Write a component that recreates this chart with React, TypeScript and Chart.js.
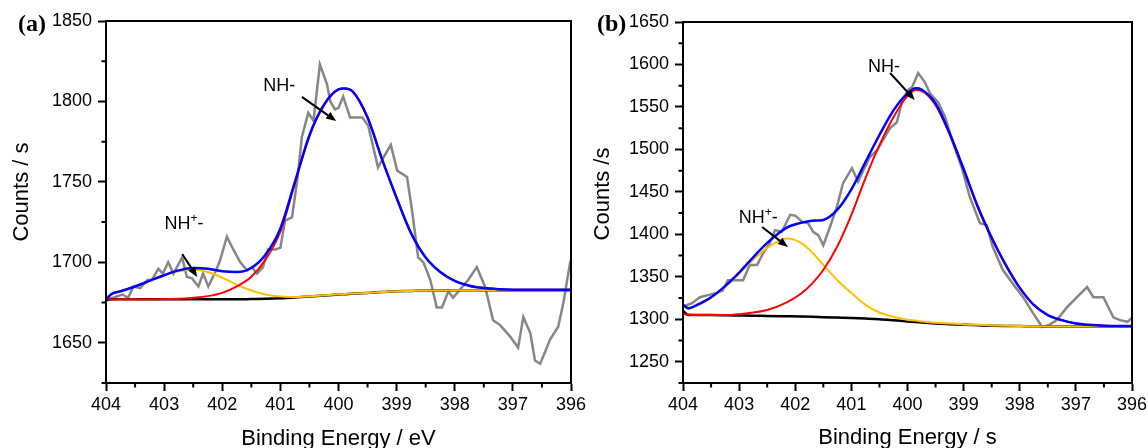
import React, { useEffect, useRef } from 'react';
import { Chart, registerables } from 'chart.js';

Chart.register(...registerables);

// ---------- tick labels ----------
const xTicks = [404, 403, 402, 401, 400, 399, 398, 397, 396];
const xMinorTicks = [403.5, 402.5, 401.5, 400.5, 399.5, 398.5, 397.5, 396.5];
const yTicksA = [1650, 1700, 1750, 1800, 1850];
const yMinorA = [1625, 1675, 1725, 1775, 1825];
const yTicksB = [1250, 1300, 1350, 1400, 1450, 1500, 1550, 1600, 1650];
const yMinorB = [1225, 1275, 1325, 1375, 1425, 1475, 1525, 1575, 1625];

// ---------- panel (a): raw spectrum ----------
const rawEnergyA = [404.0, 403.88, 403.72, 403.62, 403.53, 403.41, 403.29, 403.21, 403.1, 403.02, 402.93, 402.84, 402.69, 402.61, 402.52, 402.41, 402.33, 402.24, 402.12, 402.04, 401.92, 401.81, 401.69, 401.57, 401.49, 401.4, 401.3, 401.21, 401.09, 401.0, 400.92, 400.8, 400.71, 400.63, 400.52, 400.43, 400.32, 400.2, 400.14, 400.06, 400.0, 399.92, 399.8, 399.59, 399.49, 399.32, 399.23, 399.1, 398.99, 398.82, 398.73, 398.63, 398.54, 398.42, 398.31, 398.22, 398.11, 398.03, 397.91, 397.77, 397.62, 397.48, 397.34, 397.22, 397.05, 396.91, 396.82, 396.7, 396.62, 396.53, 396.36, 396.22, 396.13, 396.01];
const rawCountsA = [1677, 1678, 1680, 1678, 1685, 1684, 1689, 1689, 1696, 1693, 1700, 1693, 1703, 1691, 1690, 1685, 1693, 1685, 1694, 1701, 1716, 1708, 1700, 1695, 1697, 1693, 1697, 1708, 1708, 1709, 1726, 1728, 1751, 1778, 1793, 1788, 1823, 1811, 1800, 1795, 1796, 1803, 1790, 1790, 1785, 1759, 1765, 1773, 1757, 1753, 1731, 1703, 1700, 1689, 1672, 1672, 1682, 1678, 1683, 1689, 1697, 1685, 1664, 1661, 1654, 1647, 1666, 1656, 1639, 1637, 1652, 1660, 1675, 1701];

// ---------- panel (a): fitted curves ----------
const fitEnergyA = [404, 403.9, 403.75, 403.5, 403.25, 403, 402.75, 402.5, 402.25, 402, 401.75, 401.5, 401.25, 401, 400.75, 400.5, 400.25, 400, 399.9, 399.75, 399.5, 399.25, 399, 398.75, 398.5, 398.25, 398, 397.75, 397.5, 397.25, 397, 396.5, 396];
const envelopeA = [1677, 1680.5, 1682, 1685, 1688.5, 1692, 1695, 1696.5, 1696, 1694.5, 1694, 1696.5, 1705, 1721, 1750, 1779, 1798, 1807.5, 1808, 1806, 1790, 1764, 1740, 1718, 1703, 1694, 1688.5, 1685.5, 1684, 1683.3, 1683, 1683, 1683];
const nhA = [1677, 1677, 1677, 1677, 1677, 1677, 1677.3, 1678, 1679, 1681, 1685, 1691, 1702, 1719, 1749, 1778.5, 1797.5, 1807.5, 1808, 1806, 1790, 1764, 1740, 1718, 1703, 1694, 1688.5, 1685.5, 1684, 1683.3, 1683, 1683, 1683];
const nhPlusA = [1678, 1680, 1682, 1685, 1688.5, 1692, 1694.5, 1695.5, 1694, 1690.5, 1686, 1682.5, 1680, 1678.7, 1678.4, 1678.9, 1679.5, 1680.1, 1680.3, 1680.6, 1681, 1681.5, 1682, 1682.2, 1682.4, 1682.5, 1682.6, 1682.6, 1682.6, 1682.6, 1682.6, 1682.6, 1682.6];
const backgroundA = [1676.5, 1677, 1677, 1677, 1677, 1677, 1677, 1677, 1677, 1677, 1677, 1677.2, 1677.4, 1677.7, 1678.2, 1678.8, 1679.4, 1680, 1680.2, 1680.6, 1681, 1681.5, 1682, 1682.2, 1682.4, 1682.5, 1682.6, 1682.6, 1682.6, 1682.6, 1682.6, 1682.6, 1682.6];

// ---------- panel (b): raw spectrum ----------
const rawEnergyB = [404.0, 403.84, 403.7, 403.52, 403.4, 403.29, 403.2, 403.07, 402.93, 402.81, 402.68, 402.57, 402.45, 402.36, 402.24, 402.09, 402.0, 401.88, 401.77, 401.68, 401.59, 401.5, 401.38, 401.26, 401.15, 400.99, 400.88, 400.76, 400.67, 400.54, 400.44, 400.31, 400.19, 400.1, 399.99, 399.92, 399.81, 399.69, 399.6, 399.45, 399.33, 399.19, 399.03, 398.89, 398.71, 398.59, 398.48, 398.3, 398.08, 397.94, 397.76, 397.6, 397.49, 397.34, 397.16, 396.98, 396.8, 396.69, 396.51, 396.33, 396.21, 396.08, 396.0];
const rawCountsB = [1315, 1319, 1326, 1329, 1331, 1334, 1346, 1346, 1346, 1364, 1364, 1378, 1390, 1405, 1403, 1423, 1422, 1415, 1413, 1403, 1399, 1387, 1409, 1432, 1460, 1478, 1462, 1479, 1491, 1499, 1511, 1525, 1532, 1556, 1570, 1573, 1590, 1579, 1566, 1555, 1538, 1508, 1478, 1444, 1413, 1411, 1385, 1358, 1338, 1326, 1307, 1291, 1293, 1299, 1314, 1326, 1338, 1326, 1326, 1302, 1299, 1297, 1302];

// ---------- panel (b): fitted curves ----------
const fitEnergyB = [404, 403.9, 403.75, 403.5, 403.25, 403, 402.75, 402.5, 402.15, 401.9, 401.7, 401.5, 401.25, 401, 400.75, 400.5, 400.25, 400, 399.85, 399.75, 399.5, 399.25, 399, 398.75, 398.5, 398.25, 398, 397.75, 397.5, 397.25, 397, 396.5, 396];
const envelopeB = [1317, 1313, 1317, 1326, 1339, 1355, 1373, 1390, 1408, 1413.5, 1416, 1417, 1429, 1453, 1485, 1517, 1546, 1566, 1572, 1570.5, 1554, 1519, 1477, 1433, 1396, 1364, 1337, 1317, 1305, 1299, 1295, 1292.5, 1292];
const nhB = [1306, 1305.5, 1305, 1305, 1305, 1306, 1308, 1311, 1320, 1330, 1342, 1358, 1386, 1423, 1466, 1505, 1538, 1563, 1570, 1569, 1552, 1518, 1476.5, 1432.5, 1396, 1364, 1337, 1317, 1305, 1299, 1295, 1292.5, 1292];
const nhPlusB = [1316, 1312, 1316, 1325, 1338, 1354, 1370, 1384, 1395, 1390, 1379, 1364, 1346, 1331, 1317, 1308, 1303, 1299.5, 1298.5, 1297.5, 1296, 1295, 1294, 1293.5, 1292.8, 1292.3, 1292, 1291.8, 1291.6, 1291.5, 1291.5, 1291.5, 1291.5];
const backgroundB = [1310, 1305, 1305, 1305, 1304.8, 1304.5, 1304.2, 1304, 1303.6, 1303.3, 1303, 1302.5, 1302, 1301.5, 1300.8, 1300, 1298.8, 1297.5, 1296.8, 1296.3, 1295, 1294.2, 1293.5, 1293, 1292.5, 1292.2, 1292, 1291.8, 1291.6, 1291.5, 1291.5, 1291.5, 1291.5];

const SANS = '"Liberation Sans", Arial, sans-serif';
const SERIF = '"Liberation Serif", "Times New Roman", serif';

type Note = { text: string; sup: boolean; tx: number; ty: number; ax1: number; ay1: number; ax2: number; ay2: number };

type PanelSpec = {
  rawE: number[]; rawC: number[];
  fitE: number[]; envelope: number[]; nh: number[]; nhPlus: number[]; background: number[];
  yMin: number; yMax: number; yTicks: number[]; yMinor: number[];
  panelLabel: string; xTitle: string; yTitle: string;
  width: number; yAxisWidth: number; padTop: number; padRight: number;
  labelX: number; yTitleX: number; yTitleY: number; xTitleY: number;
  notes: Note[];
};

const panelA: PanelSpec = {
  rawE: rawEnergyA, rawC: rawCountsA,
  fitE: fitEnergyA, envelope: envelopeA, nh: nhA, nhPlus: nhPlusA, background: backgroundA,
  yMin: 1625, yMax: 1850, yTicks: yTicksA, yMinor: yMinorA,
  panelLabel: '(a)', xTitle: 'Binding Energy / eV', yTitle: 'Counts / s',
  width: 600, yAxisWidth: 106, padTop: 21, padRight: 29,
  labelX: 18, yTitleX: 28, yTitleY: 192, xTitleY: 445,
  notes: [
    { text: 'NH-', sup: false, tx: 401.02, ty: 1806.5, ax1: 400.63, ay1: 1802.8, ax2: 400.04, ay2: 1787.8 },
    { text: 'NH-', sup: true, tx: 402.66, ty: 1720.7, ax1: 402.69, ay1: 1705.2, ax2: 402.43, ay2: 1690.9 },
  ],
};

const panelB: PanelSpec = {
  rawE: rawEnergyB, rawC: rawCountsB,
  fitE: fitEnergyB, envelope: envelopeB, nh: nhB, nhPlus: nhPlusB, background: backgroundB,
  yMin: 1225, yMax: 1650, yTicks: yTicksB, yMinor: yMinorB,
  panelLabel: '(b)', xTitle: 'Binding Energy / s', yTitle: 'Counts /s',
  width: 570, yAxisWidth: 105, padTop: 22, padRight: 16,
  labelX: 19, yTitleX: 31, yTitleY: 194, xTitleY: 444,
  notes: [
    { text: 'NH-', sup: false, tx: 400.42, ty: 1591.1, ax1: 400.31, ay1: 1590.0, ax2: 399.87, ay2: 1558.2 },
    { text: 'NH-', sup: true, tx: 402.66, ty: 1413.4, ax1: 402.59, ay1: 1408.7, ax2: 402.13, ay2: 1385.1 },
  ],
};

function drawArrow(ctx: CanvasRenderingContext2D, x1: number, y1: number, x2: number, y2: number) {
  const ang = Math.atan2(y2 - y1, x2 - x1);
  const len = 10;
  const hw = 4;
  const bx = x2 - len * Math.cos(ang);
  const by = y2 - len * Math.sin(ang);
  ctx.lineWidth = 2;
  ctx.beginPath();
  ctx.moveTo(x1, y1);
  ctx.lineTo(bx, by);
  ctx.stroke();
  ctx.beginPath();
  ctx.moveTo(x2, y2);
  ctx.lineTo(bx + hw * Math.sin(ang), by - hw * Math.cos(ang));
  ctx.lineTo(bx - hw * Math.sin(ang), by + hw * Math.cos(ang));
  ctx.closePath();
  ctx.fill();
}

function drawNote(ctx: CanvasRenderingContext2D, note: Note, cx: number, by: number) {
  ctx.textBaseline = 'alphabetic';
  ctx.textAlign = 'left';
  const big = `18px ${SANS}`;
  const small = `12px ${SANS}`;
  if (!note.sup) {
    ctx.font = big;
    const w = ctx.measureText(note.text).width;
    ctx.fillText(note.text, cx - w / 2, by);
    return;
  }
  ctx.font = big;
  const w1 = ctx.measureText('NH').width;
  const w3 = ctx.measureText('-').width;
  ctx.font = small;
  const w2 = ctx.measureText('+').width;
  let x = cx - (w1 + w2 + w3) / 2;
  ctx.font = big;
  ctx.fillText('NH', x, by);
  x += w1;
  ctx.font = small;
  ctx.fillText('+', x, by - 7);
  x += w2;
  ctx.font = big;
  ctx.fillText('-', x, by);
}

function makeChart(canvas: HTMLCanvasElement, p: PanelSpec) {
  const pts = (xs: number[], ys: number[]) => xs.map((x, i) => ({ x, y: ys[i] }));
  const ds = (label: string, xs: number[], ys: number[], color: string, width: number, order: number, smooth: boolean) => ({
    label,
    data: pts(xs, ys),
    borderColor: color,
    backgroundColor: color,
    borderWidth: width,
    pointRadius: 0,
    pointHoverRadius: 0,
    fill: false,
    order,
    tension: 0,
    cubicInterpolationMode: smooth ? 'monotone' : 'default',
  });

  const decor = {
    id: 'decor',
    afterDraw(chart: any) {
      const { ctx, chartArea: ca, scales } = chart;
      const xs = scales.x;
      const ys = scales.y;
      ctx.save();
      ctx.strokeStyle = '#000';
      ctx.fillStyle = '#000';
      ctx.lineWidth = 2;
      ctx.beginPath();
      xMinorTicks.forEach((v) => {
        const px = xs.getPixelForValue(v);
        ctx.moveTo(px, ca.bottom);
        ctx.lineTo(px, ca.bottom + 4.5);
      });
      p.yMinor.forEach((v) => {
        const py = ys.getPixelForValue(v);
        ctx.moveTo(ca.left, py);
        ctx.lineTo(ca.left - 4.5, py);
      });
      ctx.stroke();
      ctx.strokeRect(ca.left, ca.top, ca.right - ca.left, ca.bottom - ca.top);

      p.notes.forEach((n) => {
        drawNote(ctx, n, xs.getPixelForValue(n.tx), ys.getPixelForValue(n.ty));
        drawArrow(ctx, xs.getPixelForValue(n.ax1), ys.getPixelForValue(n.ay1), xs.getPixelForValue(n.ax2), ys.getPixelForValue(n.ay2));
      });

      // panel label
      ctx.font = `bold 24px ${SERIF}`;
      ctx.textAlign = 'left';
      ctx.textBaseline = 'alphabetic';
      ctx.fillText(p.panelLabel, p.labelX, 31);

      // axis titles
      ctx.font = `22px ${SANS}`;
      ctx.textAlign = 'center';
      ctx.fillText(p.xTitle, (ca.left + ca.right) / 2, p.xTitleY);
      ctx.save();
      ctx.translate(p.yTitleX, p.yTitleY);
      ctx.rotate(-Math.PI / 2);
      ctx.fillText(p.yTitle, 0, 0);
      ctx.restore();
      ctx.restore();
    },
  };

  const tickFont = { family: SANS, size: 18 };

  return new Chart(canvas, {
    type: 'line',
    data: {
      datasets: [
        ds('Envelope', p.fitE, p.envelope, '#0000FF', 2.5, 0, true),
        ds('NH-', p.fitE, p.nh, '#FF0000', 2, 1, true),
        ds('NH+-', p.fitE, p.nhPlus, '#FFC000', 2, 2, true),
        ds('Background', p.fitE, p.background, '#000000', 2.5, 3, true),
        ds('Raw', p.rawE, p.rawC, '#868686', 2.5, 4, false),
      ] as any,
    },
    options: {
      animation: false,
      responsive: false,
      devicePixelRatio: 1,
      layout: { padding: { left: 0, top: p.padTop, right: p.padRight, bottom: 0 } },
      plugins: { legend: { display: false }, tooltip: { enabled: false }, title: { display: false } },
      events: [],
      scales: {
        x: {
          type: 'linear',
          min: 396,
          max: 404,
          reverse: true,
          afterBuildTicks: (s: any) => { s.ticks = xTicks.map((v) => ({ value: v })); },
          afterFit: (s: any) => { s.height = 65; s.paddingLeft = 0; s.paddingRight = 0; },
          grid: { drawOnChartArea: false, drawTicks: true, tickLength: 8, tickWidth: 2, tickColor: '#000' },
          border: { display: true, color: '#000', width: 2 },
          ticks: { color: '#000', font: tickFont, padding: 3, maxRotation: 0, autoSkip: false, callback: (v: any) => String(v) },
        },
        y: {
          type: 'linear',
          min: p.yMin,
          max: p.yMax,
          afterBuildTicks: (s: any) => { s.ticks = p.yTicks.map((v) => ({ value: v })); },
          afterFit: (s: any) => { s.width = p.yAxisWidth; s.paddingTop = 0; s.paddingBottom = 0; },
          grid: { drawOnChartArea: false, drawTicks: true, tickLength: 8, tickWidth: 2, tickColor: '#000' },
          border: { display: true, color: '#000', width: 2 },
          ticks: { color: '#000', font: tickFont, padding: 6, autoSkip: false, callback: (v: any) => String(v) },
        },
      },
    } as any,
    plugins: [decor],
  });
}

export default function App() {
  const refA = useRef<HTMLCanvasElement>(null);
  const refB = useRef<HTMLCanvasElement>(null);
  useEffect(() => {
    const a = makeChart(refA.current as HTMLCanvasElement, panelA);
    const b = makeChart(refB.current as HTMLCanvasElement, panelB);
    return () => {
      a.destroy();
      b.destroy();
    };
  }, []);
  return (
    <div style={{ position: 'absolute', left: 0, top: 0, width: 1148, height: 448, background: '#fff', overflow: 'hidden' }}>
      <canvas ref={refA} width={panelA.width} height={448} style={{ position: 'absolute', left: 0, top: 0 }} />
      <canvas ref={refB} width={panelB.width} height={448} style={{ position: 'absolute', left: 578, top: 0 }} />
    </div>
  );
}
